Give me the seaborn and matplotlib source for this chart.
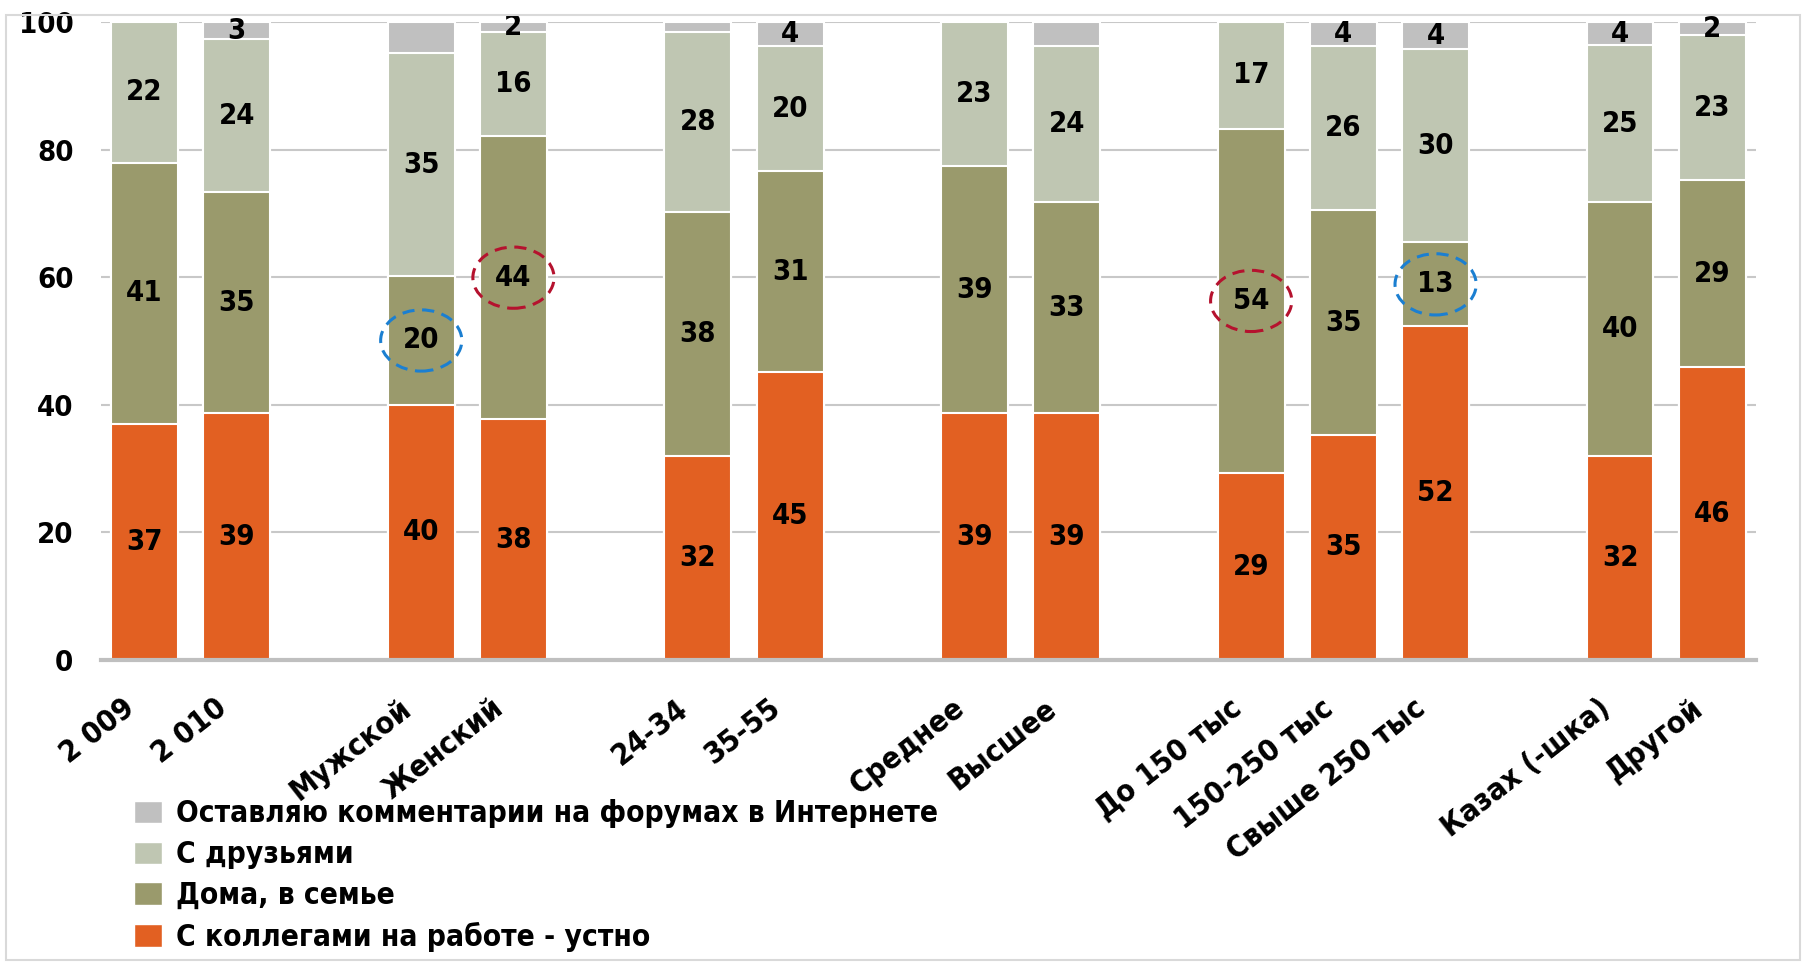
import pandas as pd
import seaborn as sns
import matplotlib.pyplot as plt
from matplotlib.patches import Patch, Ellipse, Rectangle
from matplotlib.transforms import ScaledTranslation

# Data (percent)
categories = ['2 009', '2 010', 'Мужской', 'Женский', '24-34', '35-55', 'Среднее', 'Высшее',
              'До 150 тыс', '150-250 тыс', 'Свыше 250 тыс', 'Казах (-шка)', 'Другой']
positions = [0, 1, 3, 4, 6, 7, 9, 10, 12, 13, 14, 16, 17]
work = [37.0, 38.7, 40.0, 37.8, 32.0, 45.2, 38.7, 38.7, 29.3, 35.3, 52.3, 32.0, 45.9]
home = [41.0, 34.7, 20.2, 44.3, 38.3, 31.4, 38.7, 33.1, 54.0, 35.2, 13.2, 39.8, 29.3]
friends = [22.0, 23.9, 34.9, 16.3, 28.1, 19.6, 22.6, 24.4, 16.7, 25.7, 30.3, 24.6, 22.8]
forums = [0.0, 2.7, 4.9, 1.6, 1.6, 3.8, 0.0, 3.8, 0.0, 3.8, 4.2, 3.6, 2.0]
forum_label_shown = [False, True, False, True, False, True, False, False, False, True, True, True, True]

# circled values: (category, colour)
highlights = [('Мужской', '#1B7FD1'), ('Женский', '#B5122E'),
              ('До 150 тыс', '#B5122E'), ('Свыше 250 тыс', '#1B7FD1')]

series_names = ['С коллегами на работе - устно', 'Дома, в семье', 'С друзьями',
                'Оставляю комментарии на форумах в Интернете']
colors = ['#E26022', '#9A9A6C', '#BFC6B2', '#C0C0C0']

sns.set_theme(style='white')
plt.rcParams['font.family'] = ['DejaVu Sans']
plt.rcParams['font.weight'] = 'bold'
plt.rcParams['font.stretch'] = 'condensed'
plt.rcParams['text.color'] = 'black'
plt.rcParams['xtick.color'] = 'black'
plt.rcParams['ytick.color'] = 'black'
FS = 21

df = pd.DataFrame({'cat': categories, 'pos': positions, 'work': work,
                   'home': home, 'friends': friends, 'forums': forums})
df['c1'] = df['work']
df['c2'] = df['c1'] + df['home']
df['c3'] = df['c2'] + df['friends']
df['c4'] = df['c3'] + df['forums']

fig = plt.figure(figsize=(18.08, 9.65), dpi=100)
ax = fig.add_axes([0.056, 0.316, 0.915, 0.661])

# stacked bars: draw cumulative totals from the top layer down
for col, color in zip(['c4', 'c3', 'c2', 'c1'], colors[::-1]):
    sns.barplot(data=df, x='pos', y=col, native_scale=True, width=0.725, color=color,
                saturation=1, edgecolor='white', linewidth=1.5, errorbar=None, ax=ax, zorder=2)

# value labels
for i, row in df.iterrows():
    x = row['pos']
    ax.text(x, row['c1'] / 2, f"{round(row['work'])}", ha='center', va='center', fontsize=FS, fontweight='bold', zorder=4)
    ax.text(x, (row['c1'] + row['c2']) / 2, f"{round(row['home'])}", ha='center', va='center', fontsize=FS, fontweight='bold', zorder=4)
    ax.text(x, (row['c2'] + row['c3']) / 2, f"{round(row['friends'])}", ha='center', va='center', fontsize=FS, fontweight='bold', zorder=4)
    if forum_label_shown[i]:
        ax.text(x, (row['c3'] + row['c4']) / 2, f"{round(row['forums'])}", ha='center', va='center', fontsize=FS, fontweight='bold', zorder=4)

# dashed circles around highlighted "home" values
for cat, col in highlights:
    row = df[df['cat'] == cat].iloc[0]
    ax.add_patch(Ellipse((row['pos'], (row['c1'] + row['c2']) / 2), 0.88, 9.6, fill=False,
                         ec=col, lw=2.2, ls=(0, (4, 2.5)), zorder=5))

ax.set_xlim(-0.47, 17.47)
ax.set_ylim(0, 100)
ax.set_yticks(range(0, 101, 20))
ax.set_yticklabels([str(v) for v in range(0, 101, 20)], fontsize=FS, fontweight='bold')
ax.set_xticks(positions)
ax.set_xticklabels(categories, fontsize=FS + 1, fontweight='bold', rotation=38,
                   ha='right', va='top', rotation_mode='anchor')
ax.tick_params(axis='y', length=0, pad=20)
ax.tick_params(axis='x', length=0, pad=14)
offset = ScaledTranslation(-0.22, -0.14, fig.dpi_scale_trans)
for lbl in ax.get_xticklabels():
    lbl.set_transform(lbl.get_transform() + offset)
ax.set_xlabel('')
ax.set_ylabel('')

ax.yaxis.grid(True, color='#C8C8C8', lw=1.5)
ax.set_axisbelow(True)
for s in ['left', 'right', 'top']:
    ax.spines[s].set_visible(False)
ax.spines['bottom'].set_color('#BFBFBF')
ax.spines['bottom'].set_linewidth(3)
ax.spines['bottom'].set_zorder(3)

handles = [Patch(facecolor=c, edgecolor='white') for c in colors][::-1]
fig.legend(handles, series_names[::-1], loc='upper left', bbox_to_anchor=(0.066, 0.187),
           frameon=False, prop={'size': FS + 0.4, 'weight': 'bold', 'stretch': 'condensed'},
           handlelength=0.95, handleheight=0.8, handletextpad=0.45, labelspacing=0.4, borderpad=0)

fig.patches.append(Rectangle((0.0033, 0.005), 0.9925, 0.979, transform=fig.transFigure,
                             fill=False, ec='#D9D9D9', lw=1.5))

fig.savefig('out.png', dpi=100)
